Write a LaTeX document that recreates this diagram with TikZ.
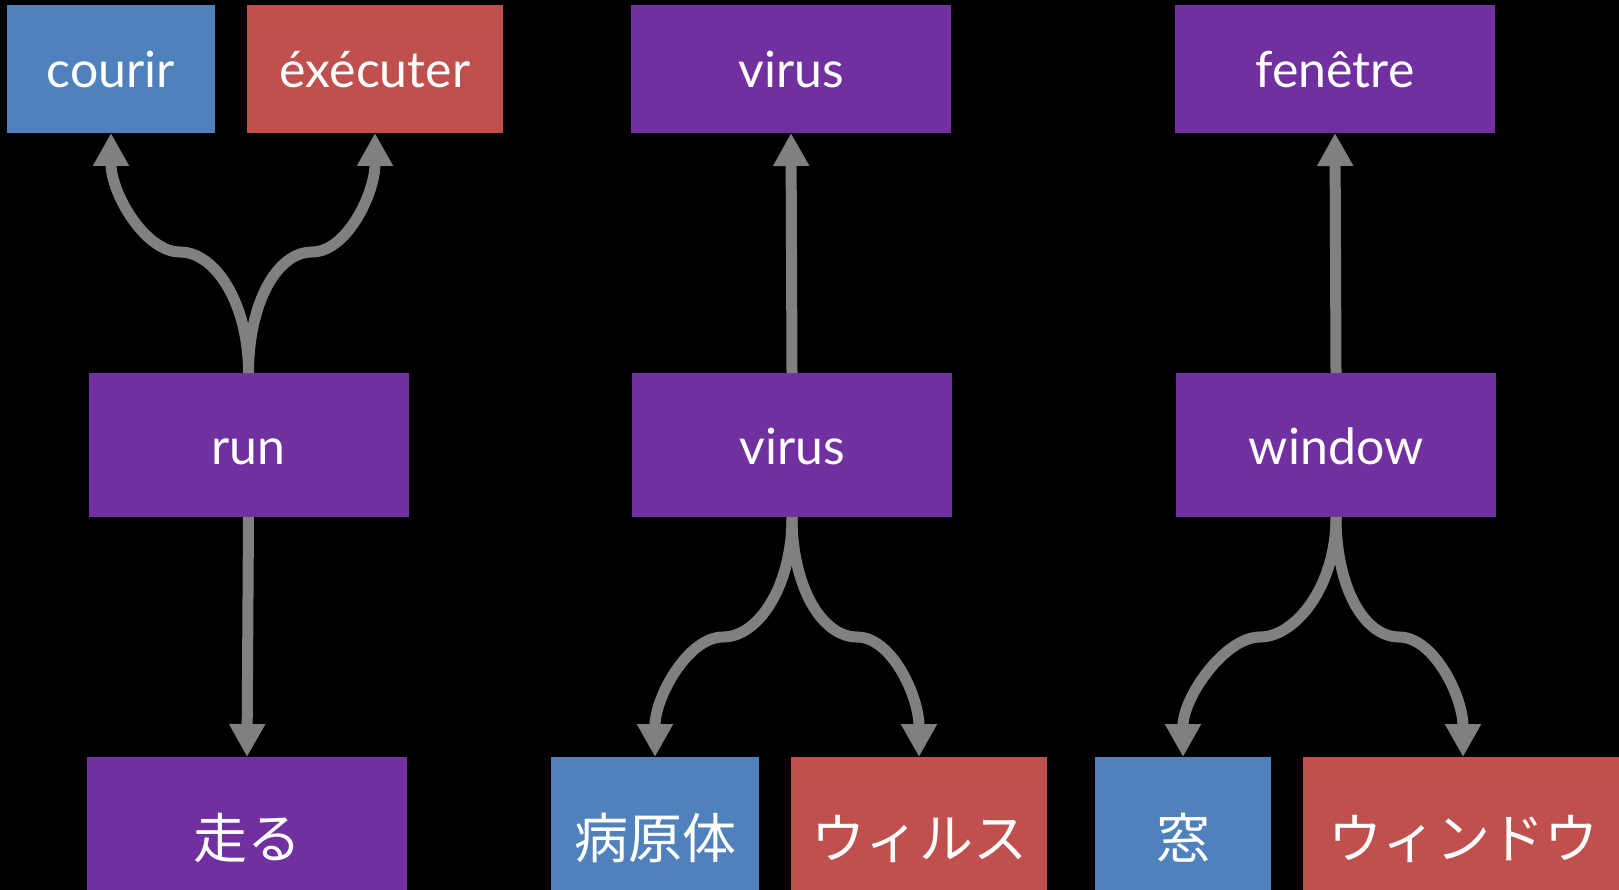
\documentclass[tikz,border=0pt]{standalone}
\usepackage{fontspec}
\setmainfont{Lato}
\newfontfamily\jpfont{Noto Sans CJK JP}
\usetikzlibrary{arrows.meta}
\definecolor{boxpurple}{HTML}{7030A0}
\definecolor{boxblue}{HTML}{4F81BD}
\definecolor{boxred}{HTML}{C0504D}
\definecolor{conngray}{HTML}{808080}
\begin{document}
\begin{tikzpicture}[x=1pt,y=-1pt,
  basebox/.style={inner sep=0pt, outer sep=0pt, text=white, draw=none},
  latinbox/.style={basebox, font=\fontsize{50}{50}\selectfont, text height=38pt, text depth=0pt},
  topbox/.style={latinbox, minimum height=128pt},
  midbox/.style={latinbox, minimum height=144pt, fill=boxpurple, minimum width=320pt},
  jpbox/.style={basebox, font=\jpfont\fontsize{54}{54}\selectfont, text height=70pt, text depth=0pt, minimum height=133pt},
  conn/.style={draw=conngray, line width=11pt, -{Triangle[length=33pt,width=34pt]}}
]
\fill[black] (0,0) rectangle (1619,890);
\useasboundingbox (0,0) rectangle (1619,890);

% top row
\node[topbox, fill=boxblue, minimum width=208pt] (courir) at (111,69) {courir};
\node[topbox, fill=boxred, minimum width=256pt] (executer) at (375,69) {éxécuter};
\node[topbox, fill=boxpurple, minimum width=320pt] (virustop) at (791,69) {virus};
\node[topbox, fill=boxpurple, minimum width=320pt] (fenetre) at (1335,69) {fenêtre};

% middle row
\node[midbox] (run) at (248.5,445) {run};
\node[midbox] (virusmid) at (792,445) {virus};
\node[midbox] (window) at (1336,445) {window};

% bottom row
\node[jpbox, fill=boxpurple, minimum width=320pt] (hashiru) at (247,823.5) {走る};
\node[jpbox, fill=boxblue, minimum width=208pt] (byogentai) at (655,823.5) {病原体};
\node[jpbox, fill=boxred, minimum width=256pt] (wirusu) at (919,823.5) {ウィルス};
\node[jpbox, fill=boxblue, minimum width=176pt] (mado) at (1183,823.5) {窓};
\node[jpbox, fill=boxred, minimum width=320pt] (windou) at (1463,823.5) {ウィンドウ};

% bend points
\coordinate (runL) at (180,252);
\coordinate (runR) at (312,252);
\coordinate (virL) at (723,637);
\coordinate (virR) at (857,637);
\coordinate (winL) at (1260,637);
\coordinate (winR) at (1399,637);

% connectors
\draw[conn] (run.north) .. controls +(0,-70) and +(35,0) .. (runL) .. controls +(-35,0) and +(0,60) .. (courir.south);
\draw[conn] (run.north) .. controls +(0,-70) and +(-35,0) .. (runR) .. controls +(35,0) and +(0,60) .. (executer.south);
\draw[conn] (run.south) -- (hashiru.north);

\draw[conn] (virusmid.north) -- (virustop.south);
\draw[conn] (virusmid.south) .. controls +(0,70) and +(35,0) .. (virL) .. controls +(-35,0) and +(0,-60) .. (byogentai.north);
\draw[conn] (virusmid.south) .. controls +(0,70) and +(-35,0) .. (virR) .. controls +(35,0) and +(0,-60) .. (wirusu.north);

\draw[conn] (window.north) -- (fenetre.south);
\draw[conn] (window.south) .. controls +(0,70) and +(35,0) .. (winL) .. controls +(-35,0) and +(0,-60) .. (mado.north);
\draw[conn] (window.south) .. controls +(0,70) and +(-35,0) .. (winR) .. controls +(35,0) and +(0,-60) .. (windou.north);
\end{tikzpicture}
\end{document}
